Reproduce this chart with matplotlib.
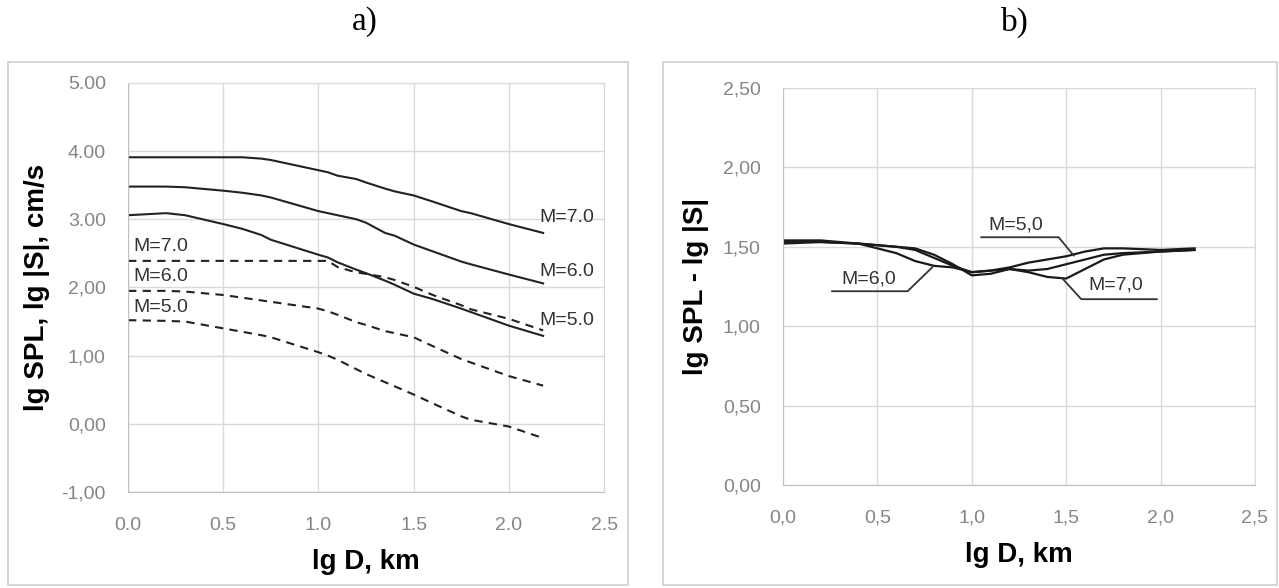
import matplotlib.pyplot as plt
from matplotlib.patches import Rectangle

# --- дані, панель a) ---
x_a = [0.0, 0.2, 0.3, 0.5, 0.6, 0.7, 0.75, 1.0, 1.05, 1.1, 1.2, 1.25, 1.35, 1.4, 1.5, 1.6, 1.75, 1.8, 2.0, 2.18]

spl_m7 = [3.91, 3.91, 3.91, 3.91, 3.91, 3.89, 3.87, 3.72, 3.69, 3.64, 3.59, 3.54, 3.45, 3.41, 3.35, 3.26, 3.12, 3.09, 2.93, 2.80]
spl_m6 = [3.48, 3.48, 3.47, 3.42, 3.39, 3.35, 3.32, 3.12, 3.09, 3.06, 3.00, 2.95, 2.80, 2.76, 2.63, 2.53, 2.38, 2.34, 2.19, 2.06]
spl_m5 = [3.06, 3.09, 3.06, 2.93, 2.86, 2.77, 2.70, 2.48, 2.44, 2.37, 2.26, 2.21, 2.10, 2.04, 1.91, 1.83, 1.69, 1.64, 1.44, 1.29]

s_m7 = [2.39, 2.39, 2.39, 2.39, 2.39, 2.39, 2.39, 2.39, 2.39, 2.30, 2.22, 2.20, 2.15, 2.11, 2.01, 1.89, 1.74, 1.68, 1.54, 1.37]
s_m6 = [1.95, 1.95, 1.94, 1.89, 1.85, 1.81, 1.79, 1.69, 1.65, 1.60, 1.49, 1.45, 1.36, 1.33, 1.27, 1.14, 0.95, 0.90, 0.70, 0.56]
s_m5 = [1.52, 1.51, 1.50, 1.40, 1.35, 1.30, 1.27, 1.05, 1.00, 0.94, 0.80, 0.73, 0.61, 0.55, 0.43, 0.30, 0.11, 0.06, -0.04, -0.21]

# --- дані, панель b) ---
x_b = [0.0, 0.2, 0.4, 0.6, 0.7, 0.8, 0.9, 1.0, 1.1, 1.2, 1.3, 1.4, 1.5, 1.6, 1.7, 1.8, 2.0, 2.18]
diff_m5 = [1.54, 1.54, 1.52, 1.50, 1.48, 1.43, 1.38, 1.34, 1.35, 1.37, 1.40, 1.42, 1.44, 1.47, 1.49, 1.49, 1.48, 1.49]
diff_m6 = [1.53, 1.53, 1.52, 1.46, 1.41, 1.38, 1.37, 1.34, 1.35, 1.36, 1.35, 1.36, 1.39, 1.42, 1.45, 1.46, 1.47, 1.48]
diff_m7 = [1.52, 1.53, 1.52, 1.50, 1.49, 1.45, 1.39, 1.32, 1.33, 1.36, 1.34, 1.31, 1.30, 1.36, 1.42, 1.45, 1.47, 1.48]

xticks = [0.0, 0.5, 1.0, 1.5, 2.0, 2.5]
xlabels_a = ['0.0', '0.5', '1.0', '1.5', '2.0', '2.5']
xlabels_b = ['0,0', '0,5', '1,0', '1,5', '2,0', '2,5']
yticks_a = [-1, 0, 1, 2, 3, 4, 5]
ylabels_a = ['-1,00', '0,00', '1,00', '2,00', '3.00', '4.00', '5.00']
yticks_b = [0, 0.5, 1.0, 1.5, 2.0, 2.5]
ylabels_b = ['0,00', '0,50', '1,00', '1,50', '2,00', '2,50']

plt.rcParams['font.family'] = ['Liberation Sans', 'DejaVu Sans']
grid_c = '#d9d9d9'
tick_c = '#858585'

fig = plt.figure(figsize=(12.79, 5.88), dpi=100)

# рамки навколо панелей
fig.patches.append(Rectangle((8 / 1279, 3 / 588), 620 / 1279, 523 / 588, transform=fig.transFigure,
                             fill=False, edgecolor='#cfcfcf', linewidth=1.2))
fig.patches.append(Rectangle((663 / 1279, 3 / 588), 614 / 1279, 523 / 588, transform=fig.transFigure,
                             fill=False, edgecolor='#cfcfcf', linewidth=1.2))

ax1 = fig.add_axes([0.1001, 0.1633, 0.3722, 0.6956])
ax2 = fig.add_axes([0.6122, 0.1752, 0.3690, 0.6752])

for ax in (ax1, ax2):
    ax.set_xlim(0, 2.5)
    ax.grid(True, color=grid_c, linewidth=1.0)
    ax.set_axisbelow(True)
    for sp in ax.spines.values():
        sp.set_color(grid_c)
    ax.spines['left'].set_color('#bfbfbf')
    ax.spines['bottom'].set_color('#bfbfbf')
    ax.tick_params(length=0, colors=tick_c, labelsize=14)
    ax.tick_params(axis='y', pad=16)
    ax.tick_params(axis='x', pad=18)
    ax.set_xticks(xticks)
    ax.set_xlabel('lg D, km', fontsize=20, fontweight='bold', labelpad=11)

# панель a)
ax1.set_ylim(-1, 5)
ax1.set_xticklabels(xlabels_a)
ax1.set_yticks(yticks_a)
ax1.set_yticklabels(ylabels_a)
ax1.set_ylabel('lg SPL, lg |S|, cm/s', fontsize=20, fontweight='bold', labelpad=8)

for y in (spl_m7, spl_m6, spl_m5):
    ax1.plot(x_a, y, color='#222222', linewidth=1.5)
for y in (s_m7, s_m6, s_m5):
    ax1.plot(x_a, y, color='#222222', linewidth=1.5, linestyle=(0, (4, 3)))

lab_kw = dict(fontsize=14, color='#333333', va='center')
ax1.text(2.16, 3.03, 'M=7.0', **lab_kw)
ax1.text(2.16, 2.24, 'M=6.0', **lab_kw)
ax1.text(2.16, 1.52, 'M=5.0', **lab_kw)
ax1.text(0.03, 2.60, 'M=7.0', **lab_kw)
ax1.text(0.03, 2.16, 'M=6.0', **lab_kw)
ax1.text(0.03, 1.70, 'M=5.0', **lab_kw)

# панель b)
ax2.set_ylim(0, 2.5)
ax2.set_xticklabels(xlabels_b)
ax2.set_yticks(yticks_b)
ax2.set_yticklabels(ylabels_b)
ax2.set_ylabel('lg SPL - lg |S|', fontsize=20, fontweight='bold', labelpad=10)

for y in (diff_m5, diff_m6, diff_m7):
    ax2.plot(x_b, y, color='#1a1a1a', linewidth=1.6)

# виноски з підписами
ax2.plot([1.05, 1.46, 1.54], [1.56, 1.56, 1.445], color='#333333', linewidth=1.3)
ax2.text(1.09, 1.635, 'M=5,0', **lab_kw)
ax2.plot([0.26, 0.66, 0.79], [1.22, 1.22, 1.37], color='#333333', linewidth=1.3)
ax2.text(0.31, 1.30, 'M=6,0', **lab_kw)
ax2.plot([1.98, 1.58, 1.48], [1.17, 1.17, 1.30], color='#333333', linewidth=1.3)
ax2.text(1.62, 1.26, 'M=7,0', **lab_kw)

fig.text(365 / 1279, 1 - 22 / 588, 'a)', fontsize=24, family='Liberation Serif', ha='center', va='center')
fig.text(1015 / 1279, 1 - 22 / 588, 'b)', fontsize=24, family='Liberation Serif', ha='center', va='center')

fig.savefig('out.png', dpi=100)
